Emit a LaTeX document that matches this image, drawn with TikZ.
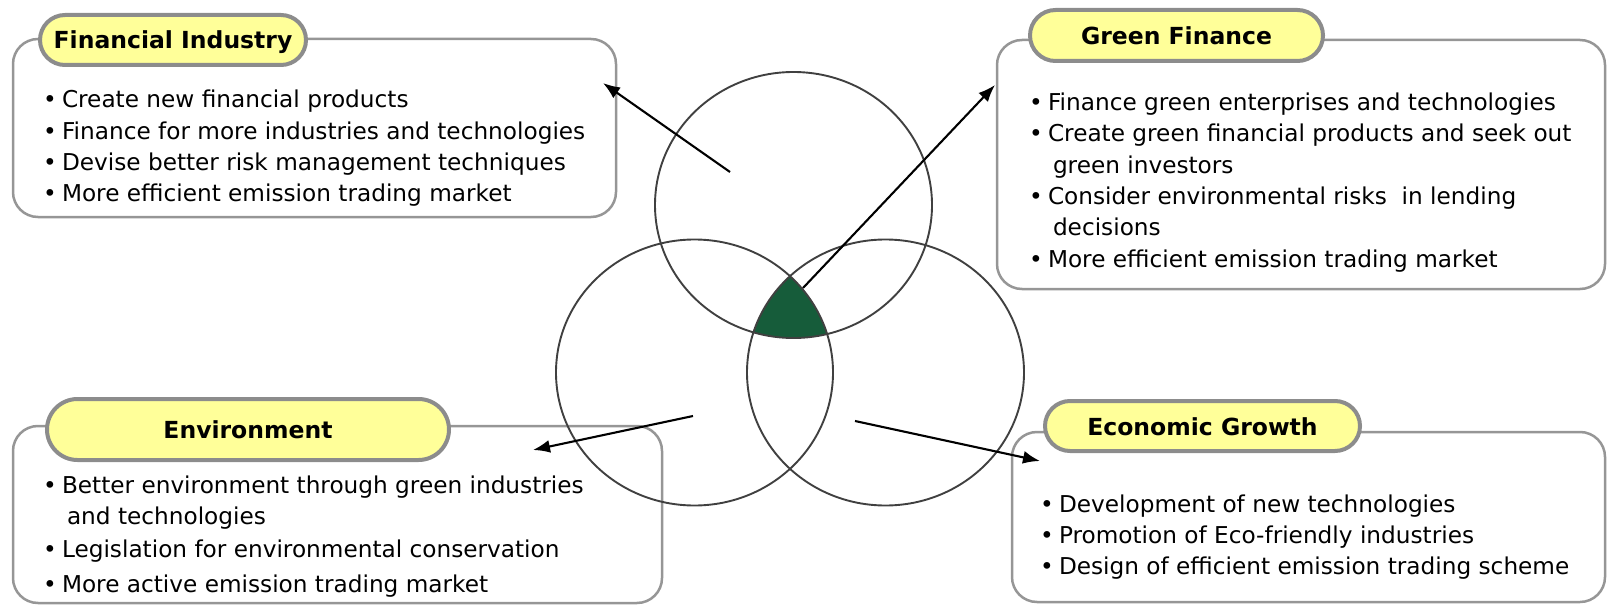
\documentclass[tikz,border=0pt]{standalone}
\usepackage{fontspec}
\setmainfont{DejaVu Sans}
\usetikzlibrary{arrows.meta,%
                shapes.misc}
\definecolor{boxgray}{RGB}{150,150,150}
\definecolor{pillgray}{RGB}{140,140,140}
\definecolor{pillyellow}{RGB}{255,255,153}
\definecolor{leafgreen}{RGB}{22,92,58}
\newcommand{\bul}{\makebox[19pt][l]{•}}
\newcommand{\ind}{\hspace*{24pt}}
\newcommand{\listfont}{\fontsize{23.2}{31.3}\selectfont}
\newcommand{\titlefont}{\fontsize{23.5}{28}\selectfont\bfseries}
\newcommand{\rx}{138.5pt}
\newcommand{\ry}{133pt}

\begin{document}
\begin{tikzpicture}[x=1pt,y=-1pt]
  \tikzstyle{every node} = [inner sep = 0,
			    outer sep = 0]
\tikzset{BoxStyle/.style={draw = boxgray, line width = 2.5pt, rounded corners = 25pt}}
\tikzstyle{TitleStyle} = [rounded rectangle, draw = pillgray, line width = 4pt,
                          fill = pillyellow, font = \titlefont,
                          text height = 18pt, text depth = 0pt]
\tikzstyle{ListStyle} = [anchor = base west, font = \listfont]
\tikzstyle{RingStyle} = [draw = black!75, line width = 1.9pt]
\tikzstyle{EdgeStyle} = [-{Latex[length=17pt,width=13pt]}, line width = 2.1pt]
\useasboundingbox (0,0) rectangle (1609,607);

\node[BoxStyle, minimum width = 603, minimum height = 178] (B0) at (314.5,128) {};
\node[BoxStyle, minimum width = 608, minimum height = 249] (B1) at (1301,164.5) {};
\node[BoxStyle, minimum width = 649, minimum height = 177] (B2) at (337.5,514.5) {};
\node[BoxStyle, minimum width = 593, minimum height = 170] (B3) at (1308.5,517) {};

\node[TitleStyle, minimum width = 266, minimum height = 50] (T0) at (173,40) {Financial Industry};
\node[TitleStyle, minimum width = 293, minimum height = 51] (T1) at (1176.5,35.5) {Green Finance};
\node[TitleStyle, minimum width = 402, minimum height = 61] (T2) at (248,429.5) {Environment};
\node[TitleStyle, minimum width = 315, minimum height = 50] (T3) at (1202.5,426) {Economic Growth};

\node[ListStyle] (L0) at (43,108) {\begin{tabular}[t]{@{}l@{}}
\bul Create new financial products\\
\bul Finance for more industries and technologies\\
\bul Devise better risk management techniques\\
\bul More efficient emission trading market
\end{tabular}};
\node[ListStyle] (L1) at (1029,110.7) {\begin{tabular}[t]{@{}l@{}}
\bul Finance green enterprises and technologies\\
\bul Create green financial products and seek out\\
\ind green investors\\
\bul Consider environmental risks\ \ in lending\\
\ind decisions\\
\bul More efficient emission trading market
\end{tabular}};
\node[ListStyle] (L2) at (43,493) {\begin{tabular}[t]{@{}l@{}}
\bul Better environment through green industries\\
\ind and technologies\\[1.4pt]
\bul Legislation for environmental conservation\\[4.5pt]
\bul More active emission trading market
\end{tabular}};
\node[ListStyle] (L3) at (1040,512) {\begin{tabular}[t]{@{}l@{}}
\bul Development of new technologies\\
\bul Promotion of Eco-friendly industries\\
\bul Design of efficient emission trading scheme
\end{tabular}};

\coordinate (C0) at (793.5,205);
\coordinate (C1) at (694.5,372.5);
\coordinate (C2) at (885.5,372.5);
\begin{scope}
\clip (C0) ellipse [x radius = \rx, y radius = \ry];
\clip (C1) ellipse [x radius = \rx, y radius = \ry];
\fill[leafgreen] (C2) ellipse [x radius = \rx, y radius = \ry];
\end{scope}
\draw[RingStyle] (C0) ellipse [x radius = \rx, y radius = \ry];
\draw[RingStyle] (C1) ellipse [x radius = \rx, y radius = \ry];
\draw[RingStyle] (C2) ellipse [x radius = \rx, y radius = \ry];

\coordinate (P0) at (730,172);
\coordinate (Q0) at (603,83);
\coordinate (P1) at (803,288);
\coordinate (Q1) at (995,85);
\coordinate (P2) at (693,416);
\coordinate (Q2) at (533,450);
\coordinate (P3) at (855,421);
\coordinate (Q3) at (1040,461);
\draw[EdgeStyle] (P0) -- (Q0);
\draw[EdgeStyle] (P1) -- (Q1);
\draw[EdgeStyle] (P2) -- (Q2);
\draw[EdgeStyle] (P3) -- (Q3);

\end{tikzpicture}
\end{document}
